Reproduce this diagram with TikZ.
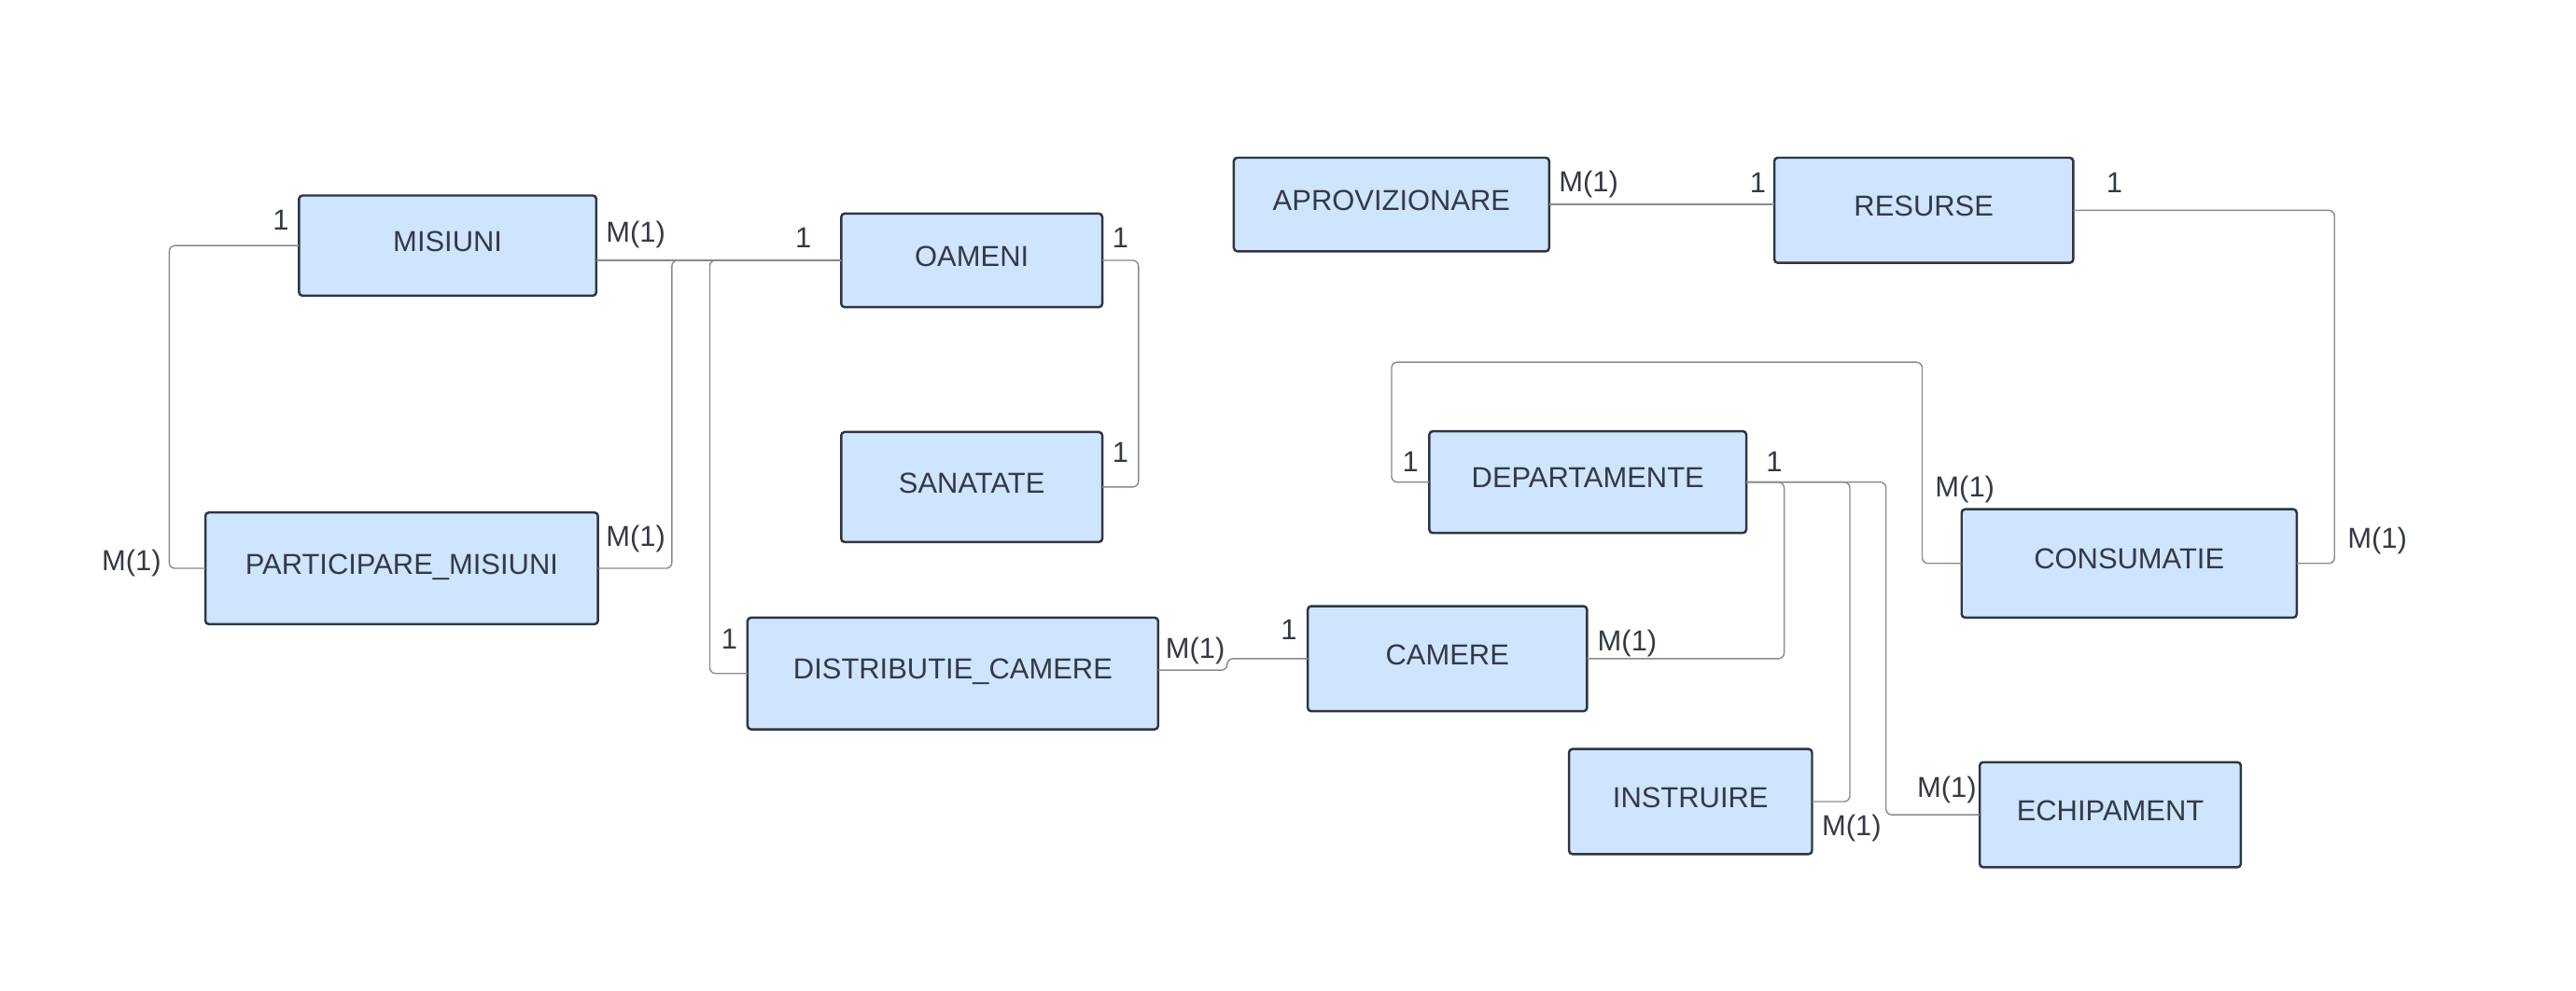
\documentclass[tikz,border=0pt]{standalone}
\usepackage{fontspec}
\setmainfont{Liberation Sans}
\usepackage{tikz}
\usetikzlibrary{calc}
\definecolor{boxfill}{HTML}{CFE4FF}
\definecolor{boxline}{HTML}{2E3640}
\definecolor{linkcol}{HTML}{8A8A8A}
\definecolor{txtcol}{HTML}{333A44}

\begin{document}
\begin{tikzpicture}[x=0.02cm, y=-0.02cm,
    entity/.style={draw=boxline, line width=0.8pt, fill=boxfill, rounded corners=1.2pt,
        inner sep=0pt, outer sep=0pt, text depth=0.3em, text=txtcol, font=\fontsize{10}{12}\selectfont},
    link/.style={draw=linkcol, line width=0.45pt, rounded corners=2pt},
    card/.style={text=txtcol, font=\fontsize{10}{12}\selectfont, inner sep=0pt}]
    \useasboundingbox (0,0) rectangle (1568,603);

    % Entitati
    \node[entity, minimum width=3.62cm, minimum height=1.22cm] (misiuni) at (272.5,149.5) {MISIUNI};
    \node[entity, minimum width=3.18cm, minimum height=1.14cm] (oameni) at (591.5,158.5) {OAMENI};
    \node[entity, minimum width=3.18cm, minimum height=1.34cm] (sanatate) at (591.5,296.5) {SANATATE};
    \node[entity, minimum width=4.78cm, minimum height=1.36cm] (participare) at (244.5,346) {PARTICIPARE\_MISIUNI};
    \node[entity, minimum width=5.00cm, minimum height=1.36cm] (distributie) at (580,410) {DISTRIBUTIE\_CAMERE};
    \node[entity, minimum width=3.84cm, minimum height=1.14cm] (aprovizionare) at (847,124.5) {APROVIZIONARE};
    \node[entity, minimum width=3.64cm, minimum height=1.28cm] (resurse) at (1171,128) {RESURSE};
    \node[entity, minimum width=3.86cm, minimum height=1.24cm] (departamente) at (966.5,293.5) {DEPARTAMENTE};
    \node[entity, minimum width=4.08cm, minimum height=1.32cm] (consumatie) at (1296,343) {CONSUMATIE};
    \node[entity, minimum width=3.40cm, minimum height=1.28cm] (camere) at (881,401) {CAMERE};
    \node[entity, minimum width=2.96cm, minimum height=1.28cm] (instruire) at (1029,488) {INSTRUIRE};
    \node[entity, minimum width=3.18cm, minimum height=1.28cm] (echipament) at (1284.5,496) {ECHIPAMENT};

    % Legaturi
    \draw[link] (misiuni.west) -- ++(-79,0) |- (participare.west);
    \draw[link] (misiuni.east |- oameni.west) -- (oameni.west);
    \draw[link] (participare.east) -- ++(45,0) |- (oameni.west);
    \draw[link] (distributie.west) -- ++(-23,0) |- (oameni.west);
    \draw[link] (oameni.east) -- ++(22,0) |- (sanatate.east);
    \draw[link] ($(distributie.east)+(0,-2)$) -- ++(42,0) |- (camere.west);
    \draw[link] (aprovizionare.east) -- (aprovizionare.east -| resurse.west);
    \draw[link] (resurse.east) -- ++(159,0) |- (consumatie.east);
    \draw[link] (departamente.west) -- ++(-23,0) -- ++(0,-73) -| ($(consumatie.west)+(-24,0)$) -- (consumatie.west);
    \draw[link] (departamente.east) -- ++(23,0) |- (camere.east);
    \draw[link] (departamente.east) -- ++(63,0) |- (instruire.east);
    \draw[link] (departamente.east) -- ++(85,0) |- (echipament.west);

    % Cardinalitati
    \node[card] (misW) at (171,134) {1};
    \node[card] (partW) at (80,343) {M(1)};
    \node[card] (misE) at (387,143) {M(1)};
    \node[card] (oamW) at (489,144.5) {1};
    \node[card] (partE) at (387,328) {M(1)};
    \node[card] (distW) at (444,389) {1};
    \node[card] (oamE) at (682,144.5) {1};
    \node[card] (sanE) at (682,275.5) {1};
    \node[card] (distE) at (727.5,396) {M(1)};
    \node[card] (camW) at (784.5,383.5) {1};
    \node[card] (aprE) at (967,112) {M(1)};
    \node[card] (resW) at (1070,111.5) {1};
    \node[card] (resE) at (1287,111.5) {1};
    \node[card] (consE) at (1447,329) {M(1)};
    \node[card] (depW) at (858.5,281) {1};
    \node[card] (consW) at (1196,298) {M(1)};
    \node[card] (depE) at (1080,281) {1};
    \node[card] (camE) at (990.5,391.5) {M(1)};
    \node[card] (instE) at (1127,504) {M(1)};
    \node[card] (echW) at (1185,481) {M(1)};
\end{tikzpicture}
\end{document}
